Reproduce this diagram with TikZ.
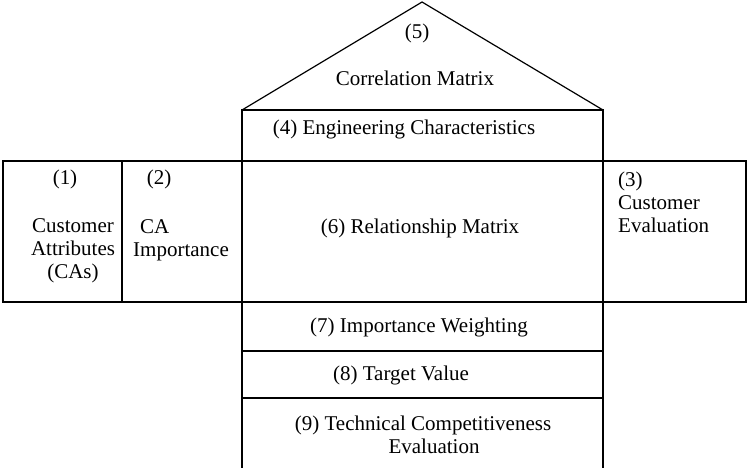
\documentclass[tikz,border=0pt]{standalone}
\usepackage{fontspec}
\setmainfont{Liberation Serif}
\usepackage{tikz}
\usetikzlibrary{positioning,calc}

\begin{document}
\begin{tikzpicture}[
    x=1pt, y=-1pt,
    part/.style={rectangle, draw=black, line width=1.2pt, inner sep=0pt, outer sep=0pt, anchor=north west},
    label/.style={font=\fontsize{21}{23}\selectfont, inner sep=0pt, anchor=base},
    roof/.style={draw=black, line width=1.2pt, line join=miter}
]
\useasboundingbox (0,0) rectangle (747,468);

% Left wing: customer side
\node[part, minimum width=119pt, minimum height=141pt] (ca) at (3,161) {};
\node[part, minimum width=120pt, minimum height=141pt] (caimp) at (122,161) {};

% Centre of the house
\node[part, minimum width=361pt, minimum height=141pt] (rel) at (242,161) {};
\node[part, minimum width=361pt, minimum height=51pt] (eng) at (242,110) {};

% Right wing
\node[part, minimum width=143pt, minimum height=141pt] (custeval) at (603,161) {};

% Roof
\coordinate (apex) at (422,2);
\draw[roof] (eng.north west) -- (apex) -- (eng.north east);

% Basement rows
\node[part, minimum width=361pt, minimum height=49pt] (weight) at (242,302) {};
\node[part, minimum width=361pt, minimum height=47pt] (target) at (242,351) {};
\node[part, draw=none, minimum width=361pt, minimum height=70pt] (techeval) at (242,398) {};
\draw[roof] (techeval.south west) -- (techeval.north west) -- (techeval.north east) -- (techeval.south east);

% Labels (multi-line ones sit on their last baseline)
\node[label] (lbl5) at (417,39) {(5)};
\node[label] (lblcorr) at (415,86) {Correlation Matrix};
\node[label] (lbleng) at (404,135) {(4) Engineering Characteristics};
\node[label] (lbl1) at (65,185) {(1)};
\node[label, align=center] (lblca) at (73,278) {Customer\\Attributes\\(CAs)};
\node[label] (lbl2) at (159,185) {(2)};
\node[label, align=left, anchor=base west] (lblimp) at (133,256) {\hspace*{7pt}CA\\Importance};
\node[label, align=left, anchor=base west] (lbleval) at (618,232) {(3)\\Customer\\Evaluation};
\node[label] (lblrel) at (420,233) {(6) Relationship Matrix};
\node[label] (lblweight) at (419,332) {(7) Importance Weighting};
\node[label] (lbltarget) at (401,380) {(8) Target Value};
\node[label, align=center] (lbltech) at (423,453) {(9) Technical Competitiveness\\\hspace*{22pt}Evaluation};

\end{tikzpicture}
\end{document}
